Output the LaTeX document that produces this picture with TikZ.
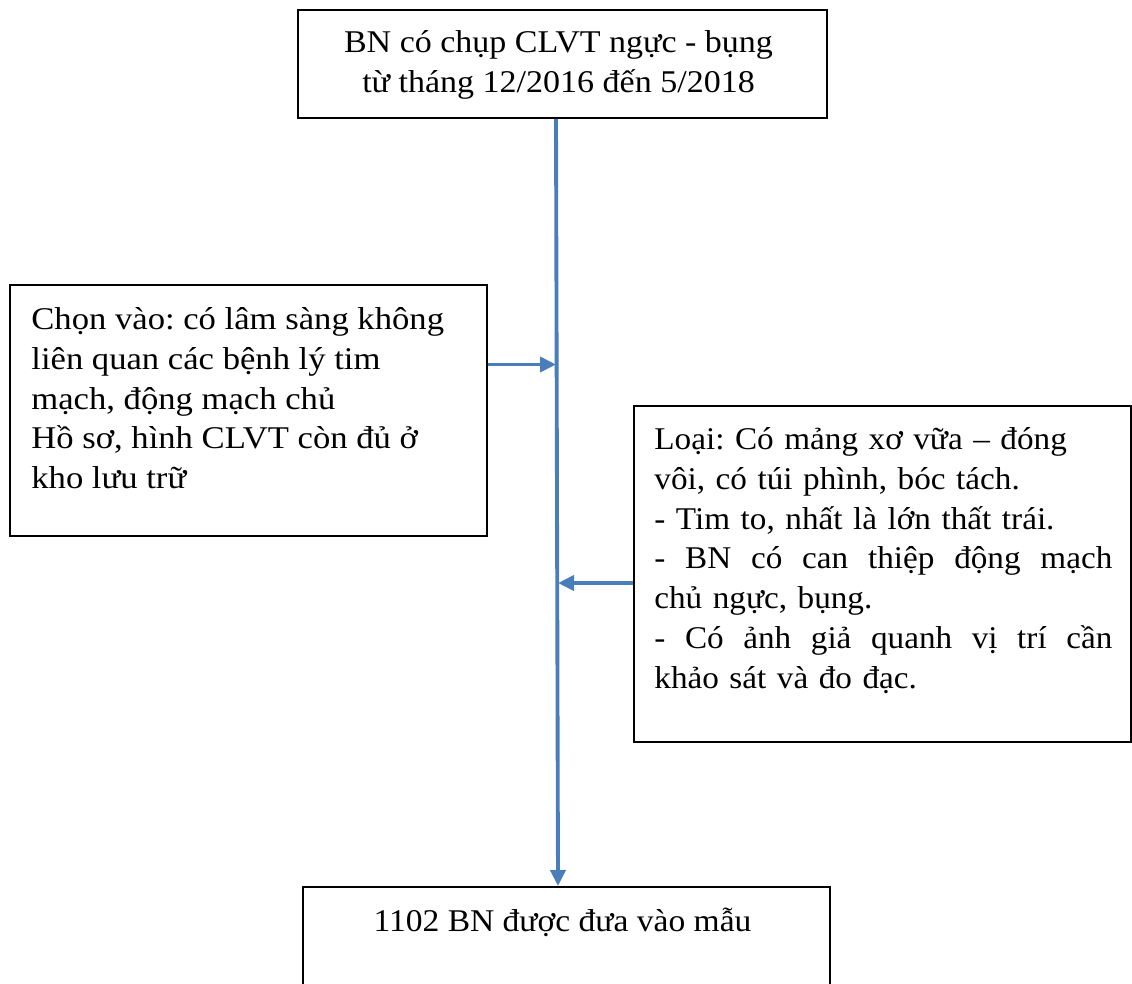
\documentclass[tikz,border=0pt]{standalone}
\usepackage{fontspec}
\setmainfont[FakeStretch=1.06]{Liberation Serif}
\newfontfamily\topfont[FakeStretch=1.075]{Liberation Serif}
\newfontfamily\leftfont[FakeStretch=1.095]{Liberation Serif}
\newfontfamily\rightfont[FakeStretch=1.05]{Liberation Serif}
\usepackage{xcolor}
\usepackage{tikz}
\usetikzlibrary{arrows.meta}
\definecolor{flowblue}{HTML}{4A7EBB}
\newcommand{\jline}[1]{\hbox to 9.16cm{#1}}
\frenchspacing

\begin{document}
\begin{tikzpicture}[
    box/.style={draw=black, line width=1.1pt, inner sep=0pt},
    txt/.style={inner sep=0pt, font=\fontsize{18}{22.7}\selectfont},
    flow/.style={draw=flowblue, line width=2.2pt,
      -{Triangle[length=0.32cm, width=0.3cm]}}
  ]
      \useasboundingbox (0,0) rectangle (22.64,-19.66);
      \clip (0,0) rectangle (22.64,-19.66);
      % boxes
      \node[box, minimum width=10.58cm, minimum height=2.16cm]
        (top) at (11.25,-1.28) {};
      \node[box, minimum width=9.54cm, minimum height=5.02cm]
        (chon) at (4.97,-8.21) {};
      \node[box, minimum width=9.94cm, minimum height=6.72cm]
        (loai) at (17.65,-11.48) {};
      \node[box, minimum width=10.54cm, minimum height=2.9cm, anchor=north]
        (bot) at (11.33,-17.72) {};
      % texts
      \node[txt, align=center, anchor=north]
        (topT) at ([xshift=-0.08cm, yshift=-0.3cm]top.north)
        {\topfont\strut BN có chụp CLVT ngực - bụng\\
         \topfont\strut từ tháng 12/2016 đến 5/2018};
      \node[txt, align=left, anchor=north west]
        (chonT) at ([xshift=0.44cm, yshift=-0.34cm]chon.north west)
        {\leftfont\strut Chọn vào: có lâm sàng không\\
         \leftfont\strut liên quan các bệnh lý tim\\
         \leftfont\strut mạch, động mạch chủ\\
         \leftfont\strut Hồ sơ, hình CLVT còn đủ ở\\
         \leftfont\strut kho lưu trữ};
      \node[txt, align=left, anchor=north west, text width=9.16cm]
        (loaiT) at ([xshift=0.42cm, yshift=-0.32cm]loai.north west)
        {\rightfont\strut Loại: Có mảng xơ vữa – đóng\\
         \rightfont\strut vôi, có túi phình, bóc tách.\\
         \rightfont\strut - Tim to, nhất là lớn thất trái.\\
         \rightfont\strut\jline{-\hfill BN\hfill có\hfill can\hfill thiệp\hfill động\hfill mạch}\\
         \rightfont\strut chủ ngực, bụng.\\
         \rightfont\strut\jline{-\hfill Có\hfill ảnh\hfill giả\hfill quanh\hfill vị\hfill trí\hfill cần}\\
         \rightfont\strut khảo sát và đo đạc.};
      \node[txt, align=center, anchor=north]
        (botT) at ([xshift=-0.08cm, yshift=-0.34cm]bot.north)
        {\strut 1102 BN được đưa vào mẫu};
      % connectors
      \coordinate (tr1) at ([xshift=-0.13cm]top.south);
      \coordinate (tr2) at ([xshift=-0.17cm]bot.north);
      \draw[flow] (tr1) -- (tr2);
      \draw[flow] ([yshift=0.92cm]chon.east) -- ([yshift=0.92cm]chon.east -| tr1);
      \draw[flow] ([yshift=-0.18cm]loai.west) -- ([yshift=-0.18cm]loai.west -| tr2);
\end{tikzpicture}
\end{document}
